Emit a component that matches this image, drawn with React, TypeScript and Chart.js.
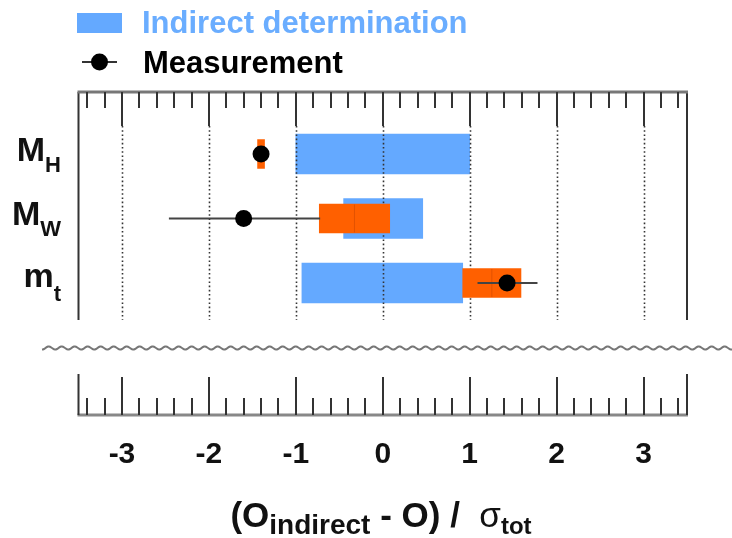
import React, { useEffect, useRef } from "react";
import { Chart, registerables } from "chart.js";

Chart.register(...registerables);

// ---- data ----
const categoryMain = ["M", "M", "m"];
const categorySub = ["H", "W", "t"];
const rowIndex = [1, 2, 3];
const indirectLow = [-1.0, -0.45, -0.93];
const indirectHigh = [1.0, 0.46, 0.92];
const contribLow = [-1.44, -0.73, 0.92];
const contribHigh = [-1.36, 0.08, 1.59];
const measValue = [-1.4, -1.6, 1.43];
const measLow = [-1.42, -2.46, 1.09];
const measHigh = [-1.38, -0.72, 1.78];
const xTickValues = [-3, -2, -1, 0, 1, 2, 3];
const minorStep = 0.2;

const BLUE = "#64A9FF";
const BLUE_TEXT = "#6AADFF";
const ORANGE = "#FF6000";
const FONT = "'Liberation Sans', Arial, Helvetica, sans-serif";

const decorPlugin = {
  id: "decor",
  afterDatasetDraw(chart: any, args: any) {
    const ctx = chart.ctx;
    const xs = chart.scales.x;
    const ca = chart.chartArea;
    if (args.index === 0) {
      ctx.save();
      ctx.strokeStyle = "#333";
      ctx.lineWidth = 1.6;
      ctx.setLineDash([1.6, 2.6]);
      for (const v of xTickValues) {
        const x = Math.round(xs.getPixelForValue(v)) + 0.5;
        ctx.beginPath();
        ctx.moveTo(x, ca.top + 34);
        ctx.lineTo(x, 320);
        ctx.stroke();
      }
      ctx.restore();
    }
    if (args.index === 1) {
      const ys = chart.scales.y;
      ctx.save();
      ctx.strokeStyle = "rgba(200,70,0,0.5)";
      ctx.lineWidth = 1;
      for (let i = 0; i < rowIndex.length; i++) {
        const x = xs.getPixelForValue((contribLow[i] + contribHigh[i]) / 2);
        const y = ys.getPixelForValue(rowIndex[i]);
        if (contribHigh[i] - contribLow[i] > 0.2) {
          ctx.beginPath();
          ctx.moveTo(x, y - 14);
          ctx.lineTo(x, y + 14);
          ctx.stroke();
        }
      }
      ctx.strokeStyle = "#444";
      ctx.lineWidth = 2;
      for (let i = 0; i < rowIndex.length; i++) {
        const y = ys.getPixelForValue(rowIndex[i]);
        ctx.beginPath();
        ctx.moveTo(xs.getPixelForValue(measLow[i]), y);
        ctx.lineTo(xs.getPixelForValue(measHigh[i]), y);
        ctx.stroke();
      }
      ctx.restore();
    }
  },
  afterDraw(chart: any) {
    const ctx = chart.ctx;
    const xs = chart.scales.x;
    const ys = chart.scales.y;
    const ca = chart.chartArea;
    const left = ca.left;
    const right = ca.right;
    ctx.save();

    ctx.strokeStyle = "#333";
    ctx.lineWidth = 2;
    ctx.beginPath();
    ctx.moveTo(left, ca.top);
    ctx.lineTo(left, 320);
    ctx.moveTo(right, ca.top);
    ctx.lineTo(right, 320);
    ctx.stroke();

    ctx.strokeStyle = "#777";
    ctx.lineWidth = 3;
    ctx.beginPath();
    ctx.moveTo(left - 1, ca.top);
    ctx.lineTo(right + 1, ca.top);
    ctx.stroke();

    const xmin = xs.min;
    const xmax = xs.max;
    const nMin = Math.ceil(xmin / minorStep - 1e-6);
    const nMax = Math.floor(xmax / minorStep + 1e-6);

    ctx.strokeStyle = "#333";
    ctx.lineWidth = 2;
    for (let n = nMin; n <= nMax; n++) {
      const v = n * minorStep;
      const major = Math.abs(v - Math.round(v)) < 1e-6;
      if (Math.abs(v - xmin) < 0.05 || Math.abs(v - xmax) < 0.05) continue;
      const x = Math.round(xs.getPixelForValue(v));
      ctx.beginPath();
      ctx.moveTo(x, ca.top);
      ctx.lineTo(x, ca.top + (major ? 34 : 16));
      ctx.stroke();
    }

    ctx.strokeStyle = "#777";
    ctx.lineWidth = 2;
    ctx.beginPath();
    for (let x = 42; x <= 732; x++) {
      const y = 348 + 1.5 * Math.sin((2 * Math.PI * x) / 13);
      if (x === 42) ctx.moveTo(x, y);
      else ctx.lineTo(x, y);
    }
    ctx.stroke();

    const bottom = ca.bottom;
    ctx.strokeStyle = "#888";
    ctx.lineWidth = 3;
    ctx.beginPath();
    ctx.moveTo(left - 1, bottom);
    ctx.lineTo(right + 1, bottom);
    ctx.stroke();
    ctx.strokeStyle = "#333";
    ctx.lineWidth = 2;
    ctx.beginPath();
    ctx.moveTo(left, bottom);
    ctx.lineTo(left, bottom - 41);
    ctx.moveTo(right, bottom);
    ctx.lineTo(right, bottom - 41);
    ctx.stroke();
    for (let n = nMin; n <= nMax; n++) {
      const v = n * minorStep;
      const major = Math.abs(v - Math.round(v)) < 1e-6;
      if (Math.abs(v - xmin) < 0.05 || Math.abs(v - xmax) < 0.05) continue;
      const x = Math.round(xs.getPixelForValue(v));
      ctx.beginPath();
      ctx.moveTo(x, bottom);
      ctx.lineTo(x, bottom - (major ? 38 : 17));
      ctx.stroke();
    }

    ctx.fillStyle = "#111";
    ctx.font = `bold 30px ${FONT}`;
    ctx.textAlign = "center";
    ctx.textBaseline = "alphabetic";
    for (const v of xTickValues) {
      ctx.fillText(String(v), xs.getPixelForValue(v), 463);
    }

    const big = `bold 35px ${FONT}`;
    const sub = `bold 28px ${FONT}`;
    const sub2 = `bold 24px ${FONT}`;
    const sig = `35px ${FONT}`;
    const parts = [
      { t: "(O", f: big, dy: 0 },
      { t: "indirect", f: sub, dy: 7 },
      { t: " - O) /  ", f: big, dy: 0 },
      { t: "σ", f: sig, dy: 0 },
      { t: "tot", f: sub2, dy: 7 },
    ];
    ctx.textAlign = "left";
    let total = 0;
    for (const p of parts) {
      ctx.font = p.f;
      total += ctx.measureText(p.t).width;
    }
    let tx = 381 - total / 2;
    for (const p of parts) {
      ctx.font = p.f;
      ctx.fillText(p.t, tx, 527 + p.dy);
      tx += ctx.measureText(p.t).width;
    }

    for (let i = 0; i < rowIndex.length; i++) {
      const y = ys.getPixelForValue(rowIndex[i]);
      const lower = categoryMain[i] === categoryMain[i].toLowerCase();
      ctx.font = `bold 34px ${FONT}`;
      const mw = ctx.measureText(categoryMain[i]).width;
      ctx.font = `bold 22px ${FONT}`;
      const sw = ctx.measureText(categorySub[i]).width;
      const x0 = 61 - mw - sw;
      const base = y + (lower ? 4 : 7);
      ctx.font = `bold 34px ${FONT}`;
      ctx.fillText(categoryMain[i], x0, base);
      ctx.font = `bold 22px ${FONT}`;
      ctx.fillText(categorySub[i], x0 + mw, base + (lower ? 14 : 11));
    }

    ctx.fillStyle = BLUE;
    ctx.fillRect(77, 13, 45, 20);
    ctx.font = `bold 31px ${FONT}`;
    ctx.fillStyle = BLUE_TEXT;
    ctx.fillText("Indirect determination", 142, 33);
    ctx.strokeStyle = "#333";
    ctx.lineWidth = 2;
    ctx.beginPath();
    ctx.moveTo(82, 62);
    ctx.lineTo(117, 62);
    ctx.stroke();
    ctx.fillStyle = "#000";
    ctx.beginPath();
    ctx.arc(99.5, 62, 8.5, 0, Math.PI * 2);
    ctx.fill();
    ctx.fillText("Measurement", 143, 72.5);

    ctx.restore();
  },
};

export default function App() {
  const ref = useRef<HTMLCanvasElement | null>(null);
  useEffect(() => {
    if (!ref.current) return;
    const chart = new Chart(ref.current, {
      type: "bar",
      data: {
        datasets: [
          {
            type: "bar",
            label: "Indirect determination",
            indexAxis: "y",
            data: rowIndex.map((r, i) => ({ y: r, x: [indirectLow[i], indirectHigh[i]] })),
            backgroundColor: BLUE,
            barThickness: 40,
            grouped: false,
            borderWidth: 0,
            order: 3,
          } as any,
          {
            type: "bar",
            label: "Measurement contribution",
            indexAxis: "y",
            data: rowIndex.map((r, i) => ({ y: r, x: [contribLow[i], contribHigh[i]] })),
            backgroundColor: ORANGE,
            barThickness: 29,
            grouped: false,
            borderWidth: 0,
            order: 2,
          } as any,
          {
            type: "scatter",
            label: "Measurement",
            data: rowIndex.map((r, i) => ({ x: measValue[i], y: r })),
            backgroundColor: "#000",
            borderColor: "#000",
            pointRadius: 8.5,
            pointBorderWidth: 0,
            showLine: false,
            order: 1,
          } as any,
        ],
      },
      options: {
        responsive: false,
        animation: false,
        layout: { padding: { left: 78.5, right: 45, top: 92, bottom: 123 } },
        plugins: { legend: { display: false }, tooltip: { enabled: false } },
        scales: {
          x: { type: "linear", min: -3.5, max: 3.5, offset: false, display: false },
          y: { type: "linear", min: 0.039, max: 5.047, reverse: true, offset: false, display: false },
        },
      } as any,
      plugins: [decorPlugin],
    });
    return () => chart.destroy();
  }, []);
  return (
    <div style={{ position: "absolute", left: 0, top: 0, width: 732, height: 538, background: "#fff" }}>
      <canvas ref={ref} width={732} height={538} />
    </div>
  );
}
